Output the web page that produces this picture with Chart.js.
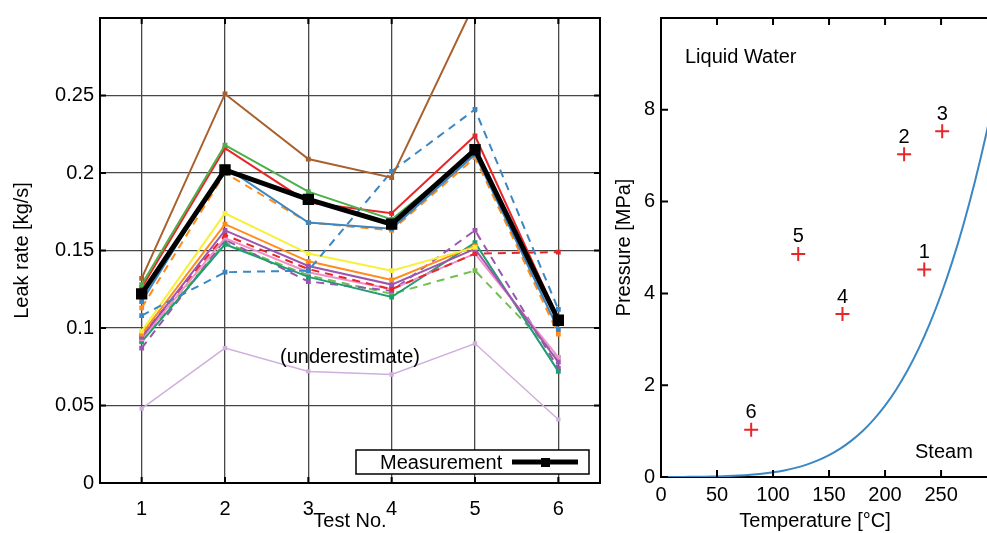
<!DOCTYPE html>
<html>
<head>
<meta charset="utf-8">
<script src="https://cdn.jsdelivr.net/npm/chart.js@4.4.1/dist/chart.umd.min.js"></script>
<style>
  body { margin: 0; background: #fff; overflow: hidden; }
  .box { position: absolute; top: 0; height: 533px; }
</style>
</head>
<body>
<div class="box" style="left:0;width:610px"><canvas id="leak"></canvas></div>
<div class="box" style="left:610px;width:377px"><canvas id="phase"></canvas></div>
<script>
// --- leak rate per test (kg/s) ---
const testNos = ['1', '2', '3', '4', '5', '6'];
const leakTicks = [0, 0.05, 0.1, 0.15, 0.2, 0.25];
const measured    = [0.122, 0.202, 0.183, 0.167, 0.215, 0.105];
const brownRun    = [0.132, 0.251, 0.209, 0.197, 0.310, null];
const greenRun    = [0.128, 0.218, 0.188, 0.170, 0.214, 0.104];
const redRun      = [0.126, 0.216, 0.181, 0.174, 0.224, 0.106];
const blueRun     = [0.117, 0.204, 0.168, 0.164, 0.212, 0.099];
const orangeDash  = [0.113, 0.200, 0.168, 0.163, 0.210, 0.096];
const blueDash    = [0.108, 0.136, 0.137, 0.201, 0.241, 0.112];
const yellowRun   = [0.098, 0.174, 0.148, 0.137, 0.152, null];
const orangeRun   = [0.096, 0.167, 0.143, 0.131, 0.153, null];
const purpleRun   = [0.094, 0.163, 0.140, 0.128, 0.151, 0.078];
const redDash     = [0.095, 0.160, 0.138, 0.125, 0.148, 0.149];
const pinkRun     = [0.093, 0.158, 0.136, 0.125, 0.148, 0.081];
const tealRun     = [0.091, 0.154, 0.133, 0.120, 0.155, 0.072];
const purpleDash  = [0.087, 0.157, 0.130, 0.124, 0.163, 0.074];
const greenDash   = [0.092, 0.155, 0.134, 0.122, 0.137, 0.081];
const lavenderRun = [0.048, 0.087, 0.072, 0.070, 0.090, 0.041];

// --- test conditions and saturation curve ---
const testLabels = ['1', '2', '3', '4', '5', '6'];
const testTemp   = [235, 217, 251, 162, 122.5, 80.5];
const testPress  = [4.52, 7.03, 7.53, 3.55, 4.86, 1.03];
const satTemp  = [0, 10, 20, 30, 40, 50, 60, 70, 80, 90, 100, 110, 120, 130, 140, 150,
                  160, 170, 180, 190, 200, 210, 220, 230, 240, 250, 260, 270, 280, 290, 300];
const satPress = [0.0006, 0.0012, 0.0023, 0.0042, 0.0074, 0.0124, 0.0199, 0.0312, 0.0474,
                  0.0702, 0.1014, 0.1434, 0.1987, 0.2703, 0.3615, 0.4761, 0.6181, 0.7921,
                  1.0026, 1.2550, 1.5547, 1.9074, 2.3193, 2.7968, 3.3467, 3.9759, 4.6921,
                  5.5028, 6.4165, 7.4416, 8.5877];
const pressTicks = [0, 2, 4, 6, 8];

const FONT = '"Liberation Sans", Arial, sans-serif';

function run(data, color, dashed, width) {
  return {
    data: data,
    borderColor: color,
    backgroundColor: color,
    borderWidth: width || 2,
    borderDash: dashed ? [8, 6] : [],
    pointRadius: 2,
    pointStyle: 'rect',
    spanGaps: false,
    tension: 0
  };
}

const leakSets = [
  Object.assign(run(measured, '#000', false, 5), { pointRadius: 4.5, label: 'Measurement' }),
  run(brownRun, '#a8602e'),
  run(greenRun, '#4caf4a'),
  run(redRun, '#e8262a'),
  run(blueRun, '#3b87c4'),
  run(orangeDash, '#ff8c1a', true),
  run(blueDash, '#3b87c4', true),
  run(yellowRun, '#f7f03a'),
  run(orangeRun, '#ff8c1a'),
  run(purpleRun, '#9b55b0'),
  run(redDash, '#e8262a', true),
  run(pinkRun, '#f08fc8'),
  run(tealRun, '#1f9e6e'),
  run(purpleDash, '#9b55b0', true),
  run(greenDash, '#74bf52', true),
  run(lavenderRun, '#cfb0dd', false, 1.5)
];

// frame, inner ticks, legend box and annotations for the leak chart
const leakDecor = {
  id: 'leakDecor',
  afterDraw(chart) {
    const c = chart.ctx, a = chart.chartArea;
    const xs = chart.scales.x, ys = chart.scales.y;
    c.save();
    c.strokeStyle = '#000';
    c.lineWidth = 2;
    c.strokeRect(a.left, a.top, a.right - a.left, a.bottom - a.top);
    c.beginPath();
    testNos.forEach((t, i) => {
      const px = xs.getPixelForValue(i);
      c.moveTo(px, a.top); c.lineTo(px, a.top + 6);
      c.moveTo(px, a.bottom); c.lineTo(px, a.bottom - 6);
    });
    leakTicks.forEach(v => {
      const py = ys.getPixelForValue(v);
      c.moveTo(a.left, py); c.lineTo(a.left + 6, py);
      c.moveTo(a.right, py); c.lineTo(a.right - 6, py);
    });
    c.stroke();

    c.fillStyle = '#000';
    c.font = '20px ' + FONT;
    c.textAlign = 'center';
    c.textBaseline = 'middle';
    c.fillText('(underestimate)', 350, 357);
    c.fillText('Test No.', 350, 521);
    c.save();
    c.translate(22, (a.top + a.bottom) / 2);
    c.rotate(-Math.PI / 2);
    c.fillText('Leak rate [kg/s]', 0, 0);
    c.restore();

    // legend
    c.fillStyle = '#fff';
    c.fillRect(356, 450, 233, 24);
    c.lineWidth = 1.5;
    c.strokeRect(356, 450, 233, 24);
    c.fillStyle = '#000';
    c.textAlign = 'left';
    c.fillText(leakSets[0].label, 380, 463);
    c.lineWidth = 5;
    c.beginPath();
    c.moveTo(512, 462); c.lineTo(578, 462);
    c.stroke();
    c.fillRect(541, 458, 9, 9);
    c.restore();
  }
};

new Chart(document.getElementById('leak'), {
  type: 'line',
  data: { labels: testNos, datasets: leakSets },
  options: {
    responsive: true,
    maintainAspectRatio: false,
    animation: false,
    devicePixelRatio: 1,
    layout: { autoPadding: false, padding: { top: 12, right: 10, left: 0, bottom: 0 } },
    plugins: { legend: { display: false }, tooltip: { enabled: false } },
    scales: {
      x: {
        offset: true,
        grid: { offset: false, color: '#474747', lineWidth: 1.3, drawTicks: false },
        border: { display: false },
        ticks: { color: '#000', font: { size: 20, family: FONT }, padding: 14 },
        afterFit(s) { s.height = 50; }
      },
      y: {
        min: 0,
        max: 0.3,
        grid: { color: '#474747', lineWidth: 1.3, drawTicks: false },
        border: { display: false },
        ticks: {
          stepSize: 0.05,
          color: '#000',
          font: { size: 20, family: FONT },
          padding: 6,
          callback(v) {
            const r = parseFloat(v.toFixed(2));
            return leakTicks.includes(r) ? String(r) : '';
          }
        },
        afterFit(s) { s.width = 100; }
      }
    }
  },
  plugins: [leakDecor]
});

// borders, inner ticks, point numbers and region names for the phase chart
const phaseDecor = {
  id: 'phaseDecor',
  afterDraw(chart) {
    const c = chart.ctx, a = chart.chartArea;
    const xs = chart.scales.x, ys = chart.scales.y;
    c.save();
    c.strokeStyle = '#000';
    c.lineWidth = 2;
    c.beginPath();
    c.moveTo(a.left, a.top); c.lineTo(a.right, a.top);
    for (let t = 50; t <= 250; t += 50) {
      const px = xs.getPixelForValue(t);
      c.moveTo(px, a.top); c.lineTo(px, a.top + 7);
      c.moveTo(px, a.bottom); c.lineTo(px, a.bottom - 7);
    }
    pressTicks.forEach(p => {
      const py = ys.getPixelForValue(p);
      c.moveTo(a.left, py); c.lineTo(a.left + 7, py);
    });
    c.stroke();

    c.fillStyle = '#000';
    c.font = '20px ' + FONT;
    c.textAlign = 'center';
    c.textBaseline = 'middle';
    testLabels.forEach((lab, i) => {
      c.fillText(lab, xs.getPixelForValue(testTemp[i]), ys.getPixelForValue(testPress[i]) - 17);
    });
    c.textAlign = 'left';
    c.fillText('Liquid Water', a.left + 24, 57);
    c.fillText('Steam', a.left + 254, 452);
    c.textAlign = 'center';
    c.fillText('Temperature [°C]', 205, 521);
    c.save();
    c.translate(14, (a.top + a.bottom) / 2);
    c.rotate(-Math.PI / 2);
    c.fillText('Pressure [MPa]', 0, 0);
    c.restore();
    c.restore();
  }
};

new Chart(document.getElementById('phase'), {
  type: 'scatter',
  data: {
    datasets: [
      {
        data: satTemp.map((t, i) => ({ x: t, y: satPress[i] })),
        showLine: true,
        borderColor: '#3b87c4',
        borderWidth: 2,
        pointRadius: 0,
        tension: 0.3
      },
      {
        data: testTemp.map((t, i) => ({ x: t, y: testPress[i] })),
        pointStyle: 'cross',
        pointRadius: 7,
        pointBorderWidth: 2,
        borderColor: '#e8262a',
        backgroundColor: '#e8262a'
      }
    ]
  },
  options: {
    responsive: true,
    maintainAspectRatio: false,
    animation: false,
    devicePixelRatio: 1,
    layout: { autoPadding: false, padding: { top: 12, right: 0, left: 0, bottom: 0 } },
    plugins: { legend: { display: false }, tooltip: { enabled: false } },
    scales: {
      x: {
        type: 'linear',
        min: 0,
        max: 291,
        grid: { display: false, drawTicks: false },
        border: { color: '#000', width: 2 },
        ticks: { stepSize: 50, includeBounds: false, color: '#000', font: { size: 20, family: FONT }, padding: 6 },
        afterFit(s) { s.height = 56; s.paddingLeft = 0; s.paddingRight = 0; }
      },
      y: {
        min: 0,
        max: 10,
        grid: { display: false, drawTicks: false },
        border: { color: '#000', width: 2 },
        ticks: {
          stepSize: 2,
          color: '#000',
          font: { size: 20, family: FONT },
          padding: 6,
          callback(v) { return pressTicks.includes(v) ? String(v) : ''; }
        },
        afterFit(s) { s.width = 51; }
      }
    }
  },
  plugins: [phaseDecor]
});
</script>
</body>
</html>
